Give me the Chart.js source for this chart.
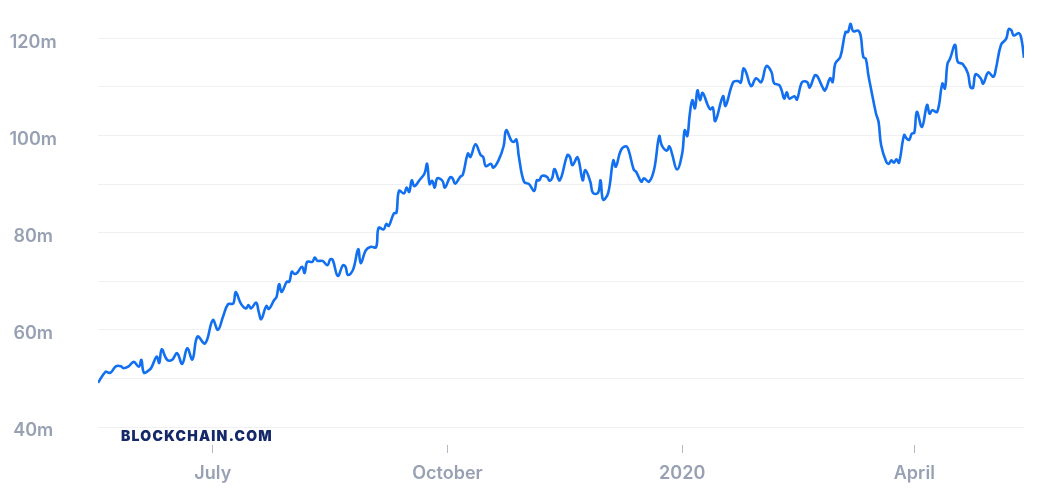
<!DOCTYPE html>
<html>
<head>
<meta charset="utf-8">
<script src="https://cdn.jsdelivr.net/npm/chart.js@4.4.1/dist/chart.umd.min.js"></script>
<style>
  html, body { margin: 0; padding: 0; background: #ffffff; }
  #wrap { position: relative; width: 1046px; height: 490px; }
  #logo {
    position: absolute; left: 121px; top: 429px;
    font-family: Inter, "Noto Sans", sans-serif; font-weight: 900; font-size: 14px;
    line-height: 14px; letter-spacing: 1.25px; color: #14286a;
  }
</style>
</head>
<body>
<div id="wrap">
  <canvas id="c" width="1046" height="490"></canvas>
  <div id="logo">BLOCKCHAIN.COM</div>
</div>
<script>
// x values: days since 2019-05-17
const startDate = '2019-05-17';
const days = [0,3,4,5,7,9,10,12,14,16,17,18,20,21,23,24,25,27,29,31,33,35,37,39,42,45,47,49,51,53,54,56,58,59,60,62,63,64,66,67,69,70,71,72,74,75,76,77,78,80,81,82,84,85,86,88,90,91,92,94,96,97,98,100,102,103,105,107,109,110,112,113,114,116,117,118,120,121,122,123,124,126,128,129,130,131,132,133,135,136,138,139,140,142,143,145,146,148,150,151,152,154,155,157,159,160,162,163,164,165,167,169,171,172,173,174,176,177,178,179,181,184,185,186,188,190,191,193,194,196,197,198,200,202,203,205,207,208,210,211,213,214,216,218,220,221,223,224,225,227,229,230,231,232,233,234,235,236,237,239,240,241,242,245,246,249,251,252,253,254,256,258,260,262,264,265,267,268,269,270,271,273,274,276,278,279,281,282,284,285,287,288,289,291,293,294,295,296,298,299,300,301,302,303,305,306,307,309,310,311,312,313,314,316,317,318,319,320,321,323,325,326,327,329,331,332,333,334,336,337,339,341,342,343,344,346,347,349,351,352,354,356,357,358,359,361,362,363];
// hash rate values, millions (TH/s)
const values = [49.1,51.4,51.2,51.2,52.5,52.5,52.1,52.5,53.4,52.4,53.8,51.2,51.7,52.3,54.5,53.2,56.0,53.9,53.8,55.2,53.0,56.2,53.9,58.6,57.2,62.0,60.0,62.7,65.3,65.4,67.8,65.4,64.4,65.1,64.4,65.6,63.7,62.2,64.9,64.3,66.1,66.8,69.4,67.8,69.9,69.9,72.0,71.5,71.7,73.0,71.7,74.0,74.0,74.9,74.2,74.2,73.3,74.5,74.4,71.1,73.3,73.0,71.3,72.4,76.6,73.7,76.4,77.1,77.0,81.0,80.7,81.8,81.4,84.0,84.1,88.6,88.1,89.3,88.4,90.8,89.6,90.8,92.2,94.2,90.0,90.7,89.3,91.2,90.7,89.3,91.4,91.2,90.1,91.5,91.9,96.3,95.6,98.2,96.0,95.6,93.7,94.2,93.4,94.9,97.8,101.1,99.0,98.7,99.2,95.6,90.5,90.0,88.6,90.8,90.8,91.7,91.5,90.7,91.2,93.1,90.8,96.0,95.6,93.9,95.5,90.8,92.9,90.5,88.2,88.2,90.8,86.8,88.2,94.9,93.6,97.0,97.8,97.0,93.0,92.5,90.5,91.2,90.5,93.0,99.9,98.0,96.9,97.8,96.3,93.0,96.3,101.1,99.9,104.5,107.3,105.6,109.3,107.3,108.8,106.3,105.4,105.8,103.0,108.1,106.1,111.0,111.2,110.9,113.8,113.1,110.2,111.8,111.0,114.3,113.1,110.8,110.4,109.3,107.6,108.9,107.6,108.1,107.4,111.0,111.0,109.9,112.4,112.2,110.0,109.3,111.8,111.0,114.8,116.2,121.3,121.3,123.0,121.5,121.6,120.5,116.2,115.8,112.4,109.7,104.5,102.8,98.0,94.6,94.2,94.9,94.4,95.1,94.4,100.1,99.4,99.1,100.4,100.6,104.9,101.8,106.3,104.5,105.2,104.9,110.7,109.7,114.8,115.8,118.7,115.2,114.7,112.8,110.0,109.8,112.6,111.8,110.7,113.0,112.1,113.8,118.7,119.9,121.9,121.7,120.6,121.1,119.9,116.0];
const tickLabels = ['July', 'October', '2020', 'April'];
const tickDates = ['2019-07-01', '2019-10-01', '2020-01-01', '2020-04-01'];
const yTicks = [40, 50, 60, 70, 80, 90, 100, 110, 120];

const DAY = 86400000;
const t0 = Date.parse(startDate + 'T00:00:00Z');
const tickDays = tickDates.map(d => Math.round((Date.parse(d + 'T00:00:00Z') - t0) / DAY));
const points = days.map((d, i) => ({ x: d, y: values[i] }));

const labelFont = { family: 'Inter, "Noto Sans", sans-serif', size: 18, weight: '600' };
const labelColor = '#98a1b3';

new Chart(document.getElementById('c'), {
  type: 'line',
  data: {
    datasets: [{
      data: points,
      borderColor: '#1270f0',
      borderWidth: 2.6,
      pointRadius: 0,
      tension: 0.4,
      fill: false
    }]
  },
  options: {
    responsive: false,
    animation: false,
    devicePixelRatio: 1,
    layout: { padding: { top: 19, right: 22, left: 0, bottom: 0 } },
    plugins: { legend: { display: false }, tooltip: { enabled: false } },
    scales: {
      x: {
        type: 'linear',
        min: 0,
        max: days[days.length - 1],
        afterBuildTicks: s => { s.ticks = tickDays.map(v => ({ value: v })); },
        afterFit: s => { s.height = 63; s.paddingLeft = 0; s.paddingRight = 0; },
        ticks: {
          autoSkip: false,
          maxRotation: 0,
          padding: 10,
          color: labelColor,
          font: labelFont,
          callback: (v, i) => tickLabels[i]
        },
        grid: {
          drawOnChartArea: false,
          drawTicks: true,
          tickLength: 26,
          tickColor: '#b3b9c5',
          tickWidth: 1,
          tickBorderDash: [0, 18, 8, 100]
        },
        border: { display: false }
      },
      y: {
        min: 40,
        max: 124,
        afterBuildTicks: s => { s.ticks = yTicks.map(v => ({ value: v })); },
        afterFit: s => { s.width = 98; s.paddingTop = 0; s.paddingBottom = 0; },
        ticks: {
          padding: 41,
          crossAlign: 'center',
          labelOffset: 4,
          color: labelColor,
          font: labelFont,
          callback: v => (v % 20 === 0 ? v + 'm' : '')
        },
        grid: {
          color: '#eef0f4',
          lineWidth: 1,
          drawTicks: false
        },
        border: { display: false }
      }
    }
  }
});
</script>
</body>
</html>
